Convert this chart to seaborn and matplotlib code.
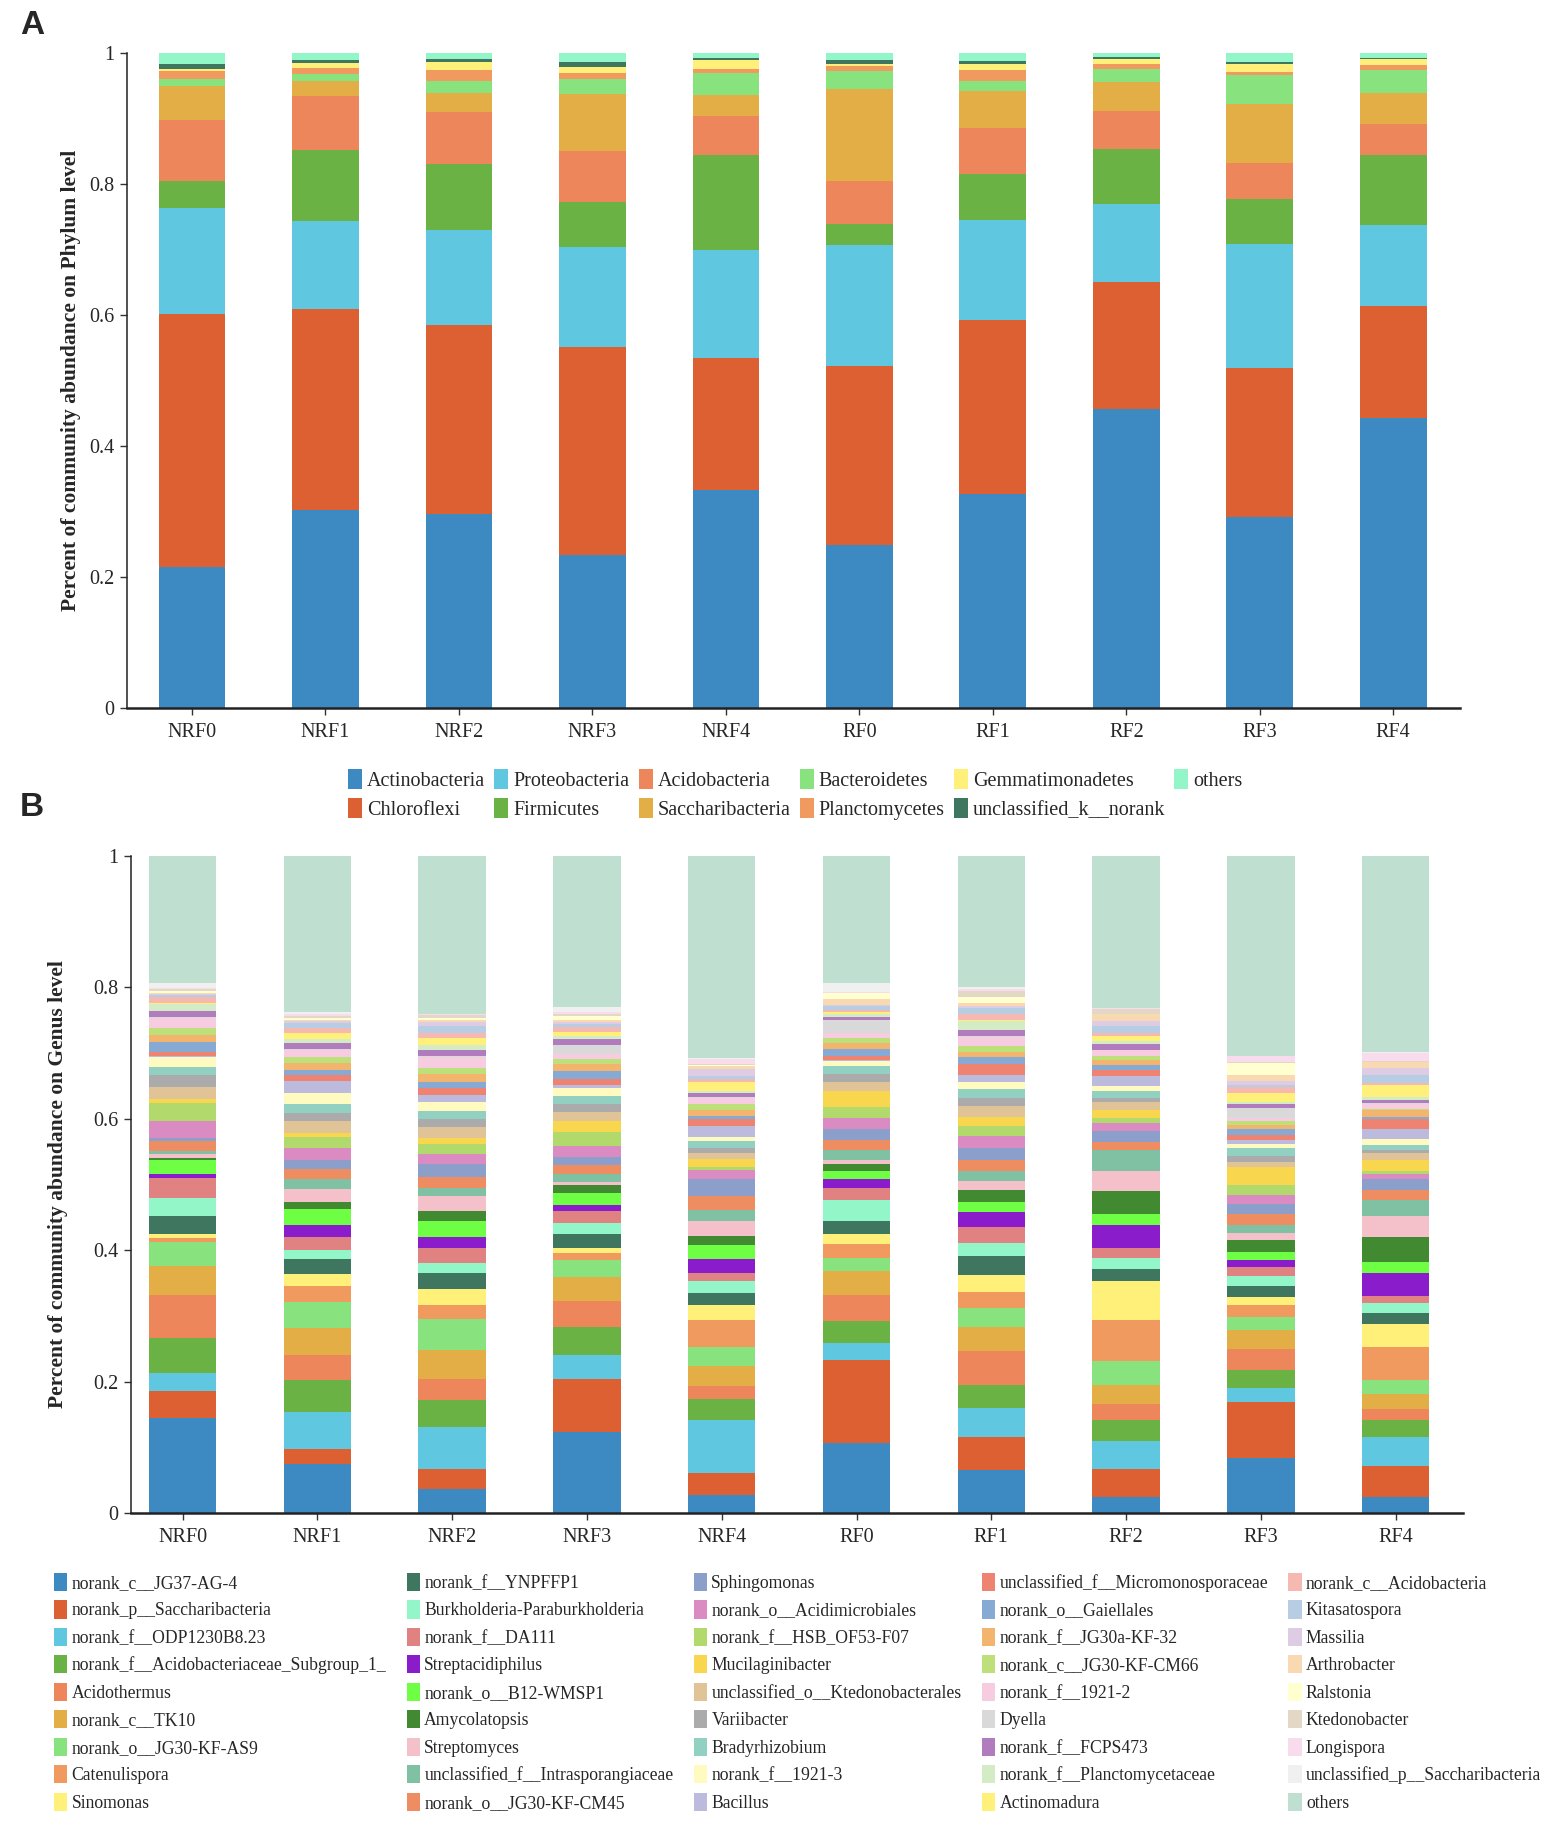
import numpy as np
import matplotlib
matplotlib.use("Agg")
import matplotlib.pyplot as plt
from matplotlib.patches import Patch
import seaborn as sns

sns.set_theme(style="ticks")
plt.rcParams["font.family"] = ["Liberation Serif", "DejaVu Serif"]

samples = ["NRF0", "NRF1", "NRF2", "NRF3", "NRF4", "RF0", "RF1", "RF2", "RF3", "RF4"]

# ---------------------------------------------------------------------------
# Phylum level (stack order bottom -> top)
# ---------------------------------------------------------------------------
phyla = ["Actinobacteria", "Chloroflexi", "Proteobacteria", "Firmicutes", "Acidobacteria",
         "Saccharibacteria", "Bacteroidetes", "Planctomycetes", "Gemmatimonadetes",
         "unclassified_k__norank", "others"]
phylum_colors = ["#3d8ac3", "#dd6033", "#5fc7e0", "#6bb244", "#ee865c", "#e2ae45",
                 "#88e27e", "#f19a60", "#fff07a", "#3f7660", "#92f6c8"]

phy_NRF0 = [0.216, 0.385, 0.163, 0.040, 0.094, 0.051, 0.011, 0.012, 0.003, 0.008, 0.017]
phy_NRF1 = [0.302, 0.307, 0.134, 0.109, 0.082, 0.024, 0.010, 0.009, 0.008, 0.005, 0.010]
phy_NRF2 = [0.296, 0.289, 0.145, 0.100, 0.080, 0.029, 0.019, 0.016, 0.013, 0.004, 0.009]
phy_NRF3 = [0.234, 0.317, 0.153, 0.068, 0.079, 0.087, 0.023, 0.009, 0.009, 0.007, 0.014]
phy_NRF4 = [0.333, 0.202, 0.164, 0.145, 0.060, 0.032, 0.034, 0.006, 0.013, 0.004, 0.007]
phy_RF0 = [0.249, 0.273, 0.185, 0.032, 0.066, 0.140, 0.028, 0.007, 0.003, 0.006, 0.011]
phy_RF1 = [0.326, 0.266, 0.153, 0.071, 0.069, 0.057, 0.016, 0.016, 0.009, 0.005, 0.012]
phy_RF2 = [0.456, 0.195, 0.118, 0.085, 0.058, 0.043, 0.021, 0.007, 0.008, 0.003, 0.006]
phy_RF3 = [0.291, 0.228, 0.189, 0.069, 0.055, 0.090, 0.044, 0.005, 0.012, 0.003, 0.014]
phy_RF4 = [0.442, 0.172, 0.123, 0.107, 0.047, 0.048, 0.035, 0.008, 0.009, 0.002, 0.007]

# ---------------------------------------------------------------------------
# Genus level (stack order bottom -> top)
# ---------------------------------------------------------------------------
genera = ["norank_c__JG37-AG-4", "norank_p__Saccharibacteria", "norank_f__ODP1230B8.23",
          "norank_f__Acidobacteriaceae_Subgroup_1_", "Acidothermus", "norank_c__TK10",
          "norank_o__JG30-KF-AS9", "Catenulispora", "Sinomonas",
          "norank_f__YNPFFP1", "Burkholderia-Paraburkholderia", "norank_f__DA111",
          "Streptacidiphilus", "norank_o__B12-WMSP1", "Amycolatopsis", "Streptomyces",
          "unclassified_f__Intrasporangiaceae", "norank_o__JG30-KF-CM45",
          "Sphingomonas", "norank_o__Acidimicrobiales", "norank_f__HSB_OF53-F07",
          "Mucilaginibacter", "unclassified_o__Ktedonobacterales", "Variibacter",
          "Bradyrhizobium", "norank_f__1921-3", "Bacillus",
          "unclassified_f__Micromonosporaceae", "norank_o__Gaiellales", "norank_f__JG30a-KF-32",
          "norank_c__JG30-KF-CM66", "norank_f__1921-2", "Dyella", "norank_f__FCPS473",
          "norank_f__Planctomycetaceae", "Actinomadura",
          "norank_c__Acidobacteria", "Kitasatospora", "Massilia", "Arthrobacter", "Ralstonia",
          "Ktedonobacter", "Longispora", "unclassified_p__Saccharibacteria", "others"]
genus_colors = ["#3d8ac3", "#dd6033", "#5fc7e0", "#6bb244", "#ee865c", "#e2ae45",
                "#88e27e", "#f19a60", "#fff07a",
                "#3f7660", "#92f6c8", "#e08282", "#8a1ccb", "#6eff44", "#418a31", "#f4c1cb",
                "#80c0a3", "#ee8d62",
                "#8c9fcb", "#da8bc2", "#b2d96b", "#f8d74f", "#e0c396", "#ababab",
                "#92d0c2", "#fffbc0", "#bdbbdd",
                "#ef8372", "#86aad3", "#f3b46e", "#bde07a", "#f7cbe0", "#d9d9d9", "#b07cbd",
                "#d4ecc6", "#fff07a",
                "#f5b9b1", "#b6cde3", "#ddcce4", "#f8d9b2", "#ffffd0", "#e2d8c5", "#f8dced",
                "#f0f0f0", "#bfe0d0"]

gen_NRF0 = [0.144, 0.041, 0.028, 0.054, 0.065, 0.044, 0.036, 0.006, 0.006,
            0.028, 0.028, 0.030, 0.006, 0.021, 0.004, 0.005, 0.005, 0.015,
            0.005, 0.025, 0.028, 0.006, 0.018, 0.019, 0.012, 0.015, 0.002,
            0.006, 0.015, 0.011, 0.010, 0.015, 0.002, 0.009, 0.010, 0.002,
            0.009, 0.003, 0.002, 0.002, 0.003, 0.002, 0.002, 0.007, 0.194]
gen_NRF1 = [0.075, 0.023, 0.056, 0.048, 0.039, 0.040, 0.040, 0.024, 0.019,
            0.022, 0.014, 0.020, 0.018, 0.024, 0.011, 0.020, 0.016, 0.014,
            0.014, 0.018, 0.018, 0.006, 0.017, 0.013, 0.013, 0.017, 0.019,
            0.008, 0.009, 0.010, 0.009, 0.011, 0.002, 0.009, 0.006, 0.008,
            0.008, 0.008, 0.003, 0.002, 0.003, 0.003, 0.002, 0.004, 0.237]
gen_NRF2 = [0.037, 0.030, 0.064, 0.041, 0.032, 0.044, 0.048, 0.021, 0.024,
            0.025, 0.014, 0.023, 0.017, 0.024, 0.015, 0.024, 0.012, 0.017,
            0.019, 0.015, 0.016, 0.009, 0.017, 0.011, 0.013, 0.014, 0.010,
            0.011, 0.009, 0.012, 0.010, 0.016, 0.001, 0.009, 0.009, 0.010,
            0.007, 0.012, 0.006, 0.003, 0.003, 0.004, 0.001, 0.001, 0.240]
gen_NRF3 = [0.123, 0.081, 0.036, 0.043, 0.039, 0.037, 0.026, 0.010, 0.008,
            0.022, 0.017, 0.018, 0.009, 0.018, 0.012, 0.005, 0.012, 0.014,
            0.012, 0.016, 0.022, 0.016, 0.015, 0.011, 0.013, 0.012, 0.005,
            0.008, 0.013, 0.010, 0.008, 0.008, 0.014, 0.008, 0.005, 0.006,
            0.008, 0.005, 0.003, 0.003, 0.006, 0.003, 0.003, 0.007, 0.230]
gen_NRF4 = [0.028, 0.033, 0.080, 0.033, 0.020, 0.029, 0.030, 0.040, 0.024,
            0.018, 0.018, 0.013, 0.021, 0.021, 0.014, 0.023, 0.016, 0.021,
            0.026, 0.014, 0.005, 0.012, 0.009, 0.007, 0.011, 0.007, 0.016,
            0.010, 0.006, 0.008, 0.009, 0.010, 0.001, 0.006, 0.004, 0.013,
            0.004, 0.005, 0.011, 0.005, 0.001, 0.001, 0.008, 0.001, 0.308]
gen_RF0 = [0.107, 0.126, 0.026, 0.033, 0.040, 0.036, 0.020, 0.021, 0.016,
           0.019, 0.032, 0.019, 0.014, 0.012, 0.010, 0.007, 0.014, 0.015,
           0.017, 0.017, 0.017, 0.024, 0.014, 0.012, 0.012, 0.008, 0.002,
           0.005, 0.012, 0.008, 0.008, 0.007, 0.020, 0.005, 0.004, 0.003,
           0.004, 0.005, 0.002, 0.010, 0.008, 0.001, 0.001, 0.013, 0.194]
gen_RF1 = [0.065, 0.051, 0.044, 0.035, 0.051, 0.037, 0.029, 0.025, 0.026,
           0.028, 0.020, 0.025, 0.022, 0.016, 0.017, 0.015, 0.014, 0.017,
           0.019, 0.018, 0.015, 0.014, 0.017, 0.012, 0.013, 0.011, 0.010,
           0.018, 0.010, 0.008, 0.009, 0.014, 0.001, 0.009, 0.014, 0.001,
           0.010, 0.008, 0.003, 0.006, 0.008, 0.010, 0.002, 0.003, 0.200]
gen_RF2 = [0.025, 0.042, 0.042, 0.032, 0.025, 0.029, 0.036, 0.062, 0.060,
           0.019, 0.016, 0.015, 0.036, 0.016, 0.035, 0.030, 0.032, 0.013,
           0.016, 0.012, 0.008, 0.013, 0.012, 0.006, 0.010, 0.008, 0.015,
           0.010, 0.007, 0.008, 0.006, 0.008, 0.001, 0.009, 0.004, 0.008,
           0.005, 0.010, 0.008, 0.010, 0.001, 0.007, 0.001, 0.001, 0.231]
gen_RF3 = [0.084, 0.085, 0.021, 0.028, 0.031, 0.029, 0.020, 0.019, 0.012,
           0.017, 0.015, 0.013, 0.011, 0.012, 0.019, 0.010, 0.013, 0.016,
           0.015, 0.014, 0.015, 0.028, 0.007, 0.010, 0.012, 0.006, 0.005,
           0.009, 0.009, 0.006, 0.006, 0.004, 0.016, 0.005, 0.004, 0.014,
           0.008, 0.003, 0.007, 0.008, 0.019, 0.001, 0.009, 0.001, 0.304]
gen_RF4 = [0.024, 0.047, 0.044, 0.026, 0.018, 0.022, 0.022, 0.050, 0.035,
           0.016, 0.015, 0.011, 0.035, 0.017, 0.038, 0.032, 0.024, 0.015,
           0.017, 0.008, 0.005, 0.016, 0.011, 0.005, 0.007, 0.009, 0.015,
           0.015, 0.003, 0.011, 0.002, 0.008, 0.001, 0.005, 0.004, 0.019,
           0.003, 0.012, 0.011, 0.008, 0.001, 0.001, 0.012, 0.001, 0.299]

phylum_vals = np.array([phy_NRF0, phy_NRF1, phy_NRF2, phy_NRF3, phy_NRF4,
                        phy_RF0, phy_RF1, phy_RF2, phy_RF3, phy_RF4])
genus_vals = np.array([gen_NRF0, gen_NRF1, gen_NRF2, gen_NRF3, gen_NRF4,
                       gen_RF0, gen_RF1, gen_RF2, gen_RF3, gen_RF4])

W, H = 1543, 1823
fig = plt.figure(figsize=(W / 100, H / 100), dpi=100)


def stacked_bars(ax, vals, colors):
    # draw cumulative heights from the top layer down so each layer covers the one above
    cum = np.cumsum(vals, axis=1)
    for k in range(vals.shape[1] - 1, -1, -1):
        sns.barplot(x=samples, y=cum[:, k], color=colors[k], saturation=1, width=0.5,
                    errorbar=None, linewidth=0, ax=ax)


def style_axis(ax, ylabel, xlim):
    ax.set_xlim(*xlim)
    ax.set_ylim(0, 1)
    ax.set_yticks([0, 0.2, 0.4, 0.6, 0.8, 1])
    ax.set_yticklabels(["0", "0.2", "0.4", "0.6", "0.8", "1"])
    ax.set_xlabel("")
    ax.set_ylabel(ylabel, fontsize=15.5, fontweight="bold")
    ax.tick_params(axis="both", direction="out", length=5, width=1, color="#333333",
                   labelsize=14.5, pad=4)
    ax.tick_params(axis="x", pad=6)
    sns.despine(ax=ax)
    ax.spines["left"].set_linewidth(1.1)
    ax.spines["bottom"].set_linewidth(1.8)
    ax.spines["left"].set_color("#222222")
    ax.spines["bottom"].set_color("#222222")


# ---------------------------------------------------------------------------
# A: phylum
# ---------------------------------------------------------------------------
axA = fig.add_axes([127 / W, 1 - 708 / H, (1460 - 127) / W, 655 / H])
stacked_bars(axA, phylum_vals, phylum_colors)
style_axis(axA, "Percent of community abundance on Phylum level", (-0.487, 9.5))
axA.yaxis.set_label_coords(-0.0346, 0.5)

handlesA = [Patch(facecolor=c, edgecolor="none") for c in phylum_colors]
fig.legend(handlesA, phyla, loc="upper left", bbox_to_anchor=(348 / W, 1 - 769 / H),
           ncol=6, frameon=False, fontsize=14.5, handlelength=0.7, handleheight=1.15,
           handletextpad=0.25, columnspacing=0.45, labelspacing=0.35,
           borderpad=0, borderaxespad=0)

# ---------------------------------------------------------------------------
# B: genus
# ---------------------------------------------------------------------------
axB = fig.add_axes([131 / W, 1 - 1513 / H, (1463 - 131) / W, 657 / H])
stacked_bars(axB, genus_vals, genus_colors)
style_axis(axB, "Percent of community abundance on Genus level", (-0.383, 9.5))
axB.yaxis.set_label_coords(-0.047, 0.5)

handlesB = [Patch(facecolor=c, edgecolor="none") for c in genus_colors]
fig.legend(handlesB, genera, loc="upper left", bbox_to_anchor=(54 / W, 1 - 1573 / H),
           ncol=5, frameon=False, fontsize=12.7, handlelength=0.75, handleheight=1.2,
           handletextpad=0.25, columnspacing=1.15, labelspacing=0.48,
           borderpad=0, borderaxespad=0)

fig.text(20 / W, 1 - 25 / H, "A", fontsize=24, fontweight="bold",
         family="Liberation Sans", ha="left", va="center")
fig.text(20 / W, 1 - 808 / H, "B", fontsize=24, fontweight="bold",
         family="Liberation Sans", ha="left", va="center")

fig.savefig("out.png", dpi=100)
